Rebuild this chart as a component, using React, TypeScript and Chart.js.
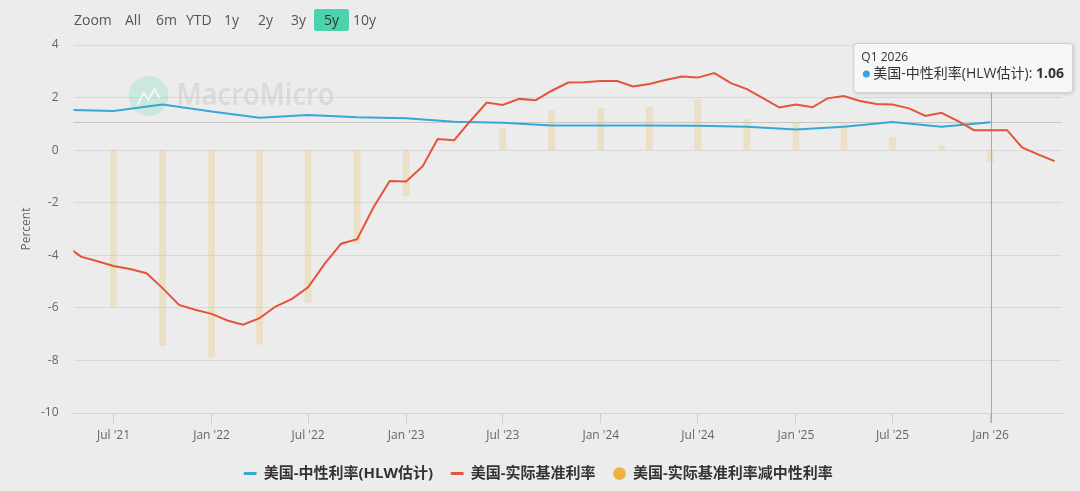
import React, { useEffect, useRef } from "react";
import { Chart, registerables } from "chart.js";

Chart.register(...registerables);

const SERIES_NEUTRAL = "美国-中性利率(HLW估计)";
const SERIES_REAL = "美国-实际基准利率";
const SERIES_GAP = "美国-实际基准利率减中性利率";

const realMonths = [
  "2021-04", "2021-05", "2021-06", "2021-07", "2021-08", "2021-09", "2021-10", "2021-11", "2021-12",
  "2022-01", "2022-02", "2022-03", "2022-04", "2022-05", "2022-06", "2022-07", "2022-08", "2022-09", "2022-10", "2022-11", "2022-12",
  "2023-01", "2023-02", "2023-03", "2023-04", "2023-05", "2023-06", "2023-07", "2023-08", "2023-09", "2023-10", "2023-11", "2023-12",
  "2024-01", "2024-02", "2024-03", "2024-04", "2024-05", "2024-06", "2024-07", "2024-08", "2024-09", "2024-10", "2024-11", "2024-12",
  "2025-01", "2025-02", "2025-03", "2025-04", "2025-05", "2025-06", "2025-07", "2025-08", "2025-09", "2025-10", "2025-11", "2025-12",
  "2026-01", "2026-02", "2026-03", "2026-04", "2026-05",
];
const realValues = [
  -3.6, -4.05, -4.23, -4.41, -4.52, -4.68, -5.25, -5.89, -6.07,
  -6.23, -6.49, -6.64, -6.39, -5.95, -5.66, -5.22, -4.33, -3.56, -3.39, -2.16, -1.17,
  -1.19, -0.61, 0.42, 0.38, 1.1, 1.81, 1.72, 1.95, 1.9, 2.26, 2.57, 2.58,
  2.63, 2.63, 2.42, 2.52, 2.67, 2.8, 2.76, 2.93, 2.55, 2.32, 1.97, 1.62,
  1.74, 1.63, 1.97, 2.06, 1.87, 1.76, 1.74, 1.59, 1.3, 1.42, 1.1, 0.76,
  0.76, 0.76, 0.1, -0.17, -0.42,
];

const neutralQuarters = [
  "2021-04", "2021-07", "2021-10", "2022-01", "2022-04", "2022-07", "2022-10",
  "2023-01", "2023-04", "2023-07", "2023-10", "2024-01", "2024-04", "2024-07", "2024-10",
  "2025-01", "2025-04", "2025-07", "2025-10", "2026-01",
];
const neutralValues = [
  1.53, 1.49, 1.74, 1.47, 1.23, 1.34, 1.25,
  1.21, 1.08, 1.04, 0.94, 0.94, 0.94, 0.93, 0.89,
  0.79, 0.89, 1.07, 0.89, 1.06,
];

const gapQuarters = [
  "2021-07", "2021-10", "2022-01", "2022-04", "2022-07", "2022-10",
  "2023-01", "2023-07", "2023-10", "2024-01", "2024-04", "2024-07", "2024-10",
  "2025-01", "2025-04", "2025-07", "2025-10", "2026-01",
];
const gapValues = [
  -5.95, -7.44, -7.89, -7.38, -5.79, -3.56,
  -1.74, 0.83, 1.5, 1.59, 1.65, 1.93, 1.17,
  1.02, 1.02, 0.48, 0.17, -0.45,
];

const tickDates = [
  "2021-07", "2022-01", "2022-07", "2023-01", "2023-07",
  "2024-01", "2024-07", "2025-01", "2025-07", "2026-01",
];
const tickLabels = [
  "Jul '21", "Jan '22", "Jul '22", "Jan '23", "Jul '23",
  "Jan '24", "Jul '24", "Jan '25", "Jul '25", "Jan '26",
];

const rangeStart = "2021-04-17";
const rangeEnd = "2026-05-15";
const yMin = -10;
const yMax = 4;
const yStep = 2;

const zoomButtons = ["Zoom", "All", "6m", "YTD", "1y", "2y", "3y", "5y", "10y"];
const activeZoom = "5y";
const tooltipTitle = "Q1 2026";
const yAxisTitle = "Percent";
const watermarkText = "MacroMicro";

const BLUE = "#37a6d8";
const RED = "#e4533b";
const GOLD = "#e9b444";
const GOLD_BAR = "rgba(233, 180, 68, 0.23)";
const BG = "#ececec";
const FONT = '"Open Sans", "Noto Sans CJK SC", sans-serif';

function toDay(s: string): number {
  const [y, m, d] = s.split("-").map(Number);
  return Date.UTC(y, m - 1, d || 1) / 86400000;
}

const buttonLeft = [74, 125, 156, 186, 224, 258, 291, 324, 353];

const overlayPlugin = {
  id: "overlay",
  beforeDatasetsDraw(chart: any) {
    const { ctx, chartArea } = chart;
    // watermark
    ctx.save();
    const cx = chartArea.left + 75;
    const cy = chartArea.top + 51;
    ctx.fillStyle = "rgba(110, 215, 180, 0.26)";
    ctx.beginPath();
    ctx.arc(cx, cy, 20, 0, Math.PI * 2);
    ctx.fill();
    ctx.strokeStyle = "rgba(255,255,255,0.7)";
    ctx.lineWidth = 2;
    ctx.beginPath();
    ctx.moveTo(cx - 11, cy + 9);
    ctx.lineTo(cx - 5, cy - 3);
    ctx.lineTo(cx, cy + 4);
    ctx.lineTo(cx + 6, cy - 7);
    ctx.lineTo(cx + 11, cy + 2);
    ctx.stroke();
    ctx.font = "600 30px " + FONT;
    ctx.fillStyle = "rgba(200, 200, 200, 0.5)";
    ctx.textBaseline = "middle";
    ctx.textAlign = "left";
    const tw = ctx.measureText(watermarkText).width;
    ctx.translate(cx + 28, cy);
    ctx.scale(158 / tw, 1);
    ctx.fillText(watermarkText, 0, 0);
    ctx.restore();

    // crosshairs
    const meta = chart.getDatasetMeta(0);
    const pt = meta.data[meta.data.length - 1];
    if (!pt) return;
    ctx.save();
    ctx.lineWidth = 1;
    ctx.strokeStyle = "#c6c6c6";
    ctx.beginPath();
    const hy = Math.round(pt.y) + 0.5;
    ctx.moveTo(chartArea.left, hy);
    ctx.lineTo(chartArea.right, hy);
    ctx.stroke();
    ctx.strokeStyle = "#a8a8a8";
    ctx.beginPath();
    const vx = Math.round(pt.x) + 0.5;
    ctx.moveTo(vx, chartArea.top);
    ctx.lineTo(vx, chartArea.bottom + 10);
    ctx.stroke();
    ctx.restore();
  },
  afterDraw(chart: any) {
    const { ctx, chartArea } = chart;
    const meta = chart.getDatasetMeta(0);
    const pt = meta.data[meta.data.length - 1];
    if (!pt) return;
    const label = SERIES_NEUTRAL + ": ";
    const valueText = neutralValues[neutralValues.length - 1].toFixed(2);
    ctx.save();
    ctx.font = "14px " + FONT;
    const w1 = ctx.measureText(label).width;
    ctx.font = "bold 14px " + FONT;
    const w2 = ctx.measureText(valueText).width;
    const boxW = 8 + 12 + w1 + w2 + 8;
    const boxH = 49;
    const bx = Math.min(pt.x - boxW / 2, chart.width - boxW - 8);
    const by = chartArea.top - 2;
    ctx.shadowColor = "rgba(0,0,0,0.18)";
    ctx.shadowBlur = 4;
    ctx.shadowOffsetX = 1;
    ctx.shadowOffsetY = 1;
    ctx.fillStyle = "rgba(248,248,248,0.96)";
    ctx.beginPath();
    ctx.roundRect(bx + 0.5, by + 0.5, boxW, boxH, 3);
    ctx.fill();
    ctx.shadowColor = "transparent";
    ctx.strokeStyle = "#cfcfcf";
    ctx.lineWidth = 1;
    ctx.stroke();
    ctx.textBaseline = "middle";
    ctx.textAlign = "left";
    ctx.fillStyle = "#333";
    ctx.font = "12px " + FONT;
    ctx.fillText(tooltipTitle, bx + 8, by + 15);
    ctx.fillStyle = BLUE;
    ctx.beginPath();
    ctx.arc(bx + 13, by + 31, 3.5, 0, Math.PI * 2);
    ctx.fill();
    ctx.fillStyle = "#333";
    ctx.font = "14px " + FONT;
    ctx.fillText(label, bx + 20, by + 31);
    ctx.font = "bold 14px " + FONT;
    ctx.fillText(valueText, bx + 20 + w1, by + 31);
    ctx.restore();
  },
};

export default function App() {
  const canvasRef = useRef<HTMLCanvasElement | null>(null);

  useEffect(() => {
    document.body.style.margin = "0";
    document.body.style.background = BG;
    const canvas = canvasRef.current;
    if (!canvas) return;

    const blueData = neutralQuarters.map((q, i) => ({ x: toDay(q), y: neutralValues[i] }));
    const redData = realMonths.map((m, i) => ({ x: toDay(m), y: realValues[i] }));
    const barData = gapQuarters.map((q, i) => ({ x: toDay(q), y: gapValues[i] }));
    const tickValues = tickDates.map(toDay);

    const chart = new Chart(canvas, {
      type: "line",
      data: {
        datasets: [
          {
            type: "line",
            label: SERIES_NEUTRAL,
            data: blueData,
            borderColor: BLUE,
            backgroundColor: BLUE,
            borderWidth: 2,
            pointRadius: 0,
            tension: 0,
            order: 2,
          },
          {
            type: "line",
            label: SERIES_REAL,
            data: redData,
            borderColor: RED,
            backgroundColor: RED,
            borderWidth: 2,
            pointRadius: 0,
            tension: 0,
            order: 1,
          },
          {
            type: "bar",
            label: SERIES_GAP,
            data: barData,
            backgroundColor: GOLD_BAR,
            borderWidth: 0,
            barThickness: 6,
            order: 3,
          } as any,
        ],
      },
      options: {
        responsive: false,
        animation: false,
        events: [],
        layout: { padding: { top: 45, left: 15, right: 18, bottom: 0 } },
        scales: {
          x: {
            type: "linear",
            min: toDay(rangeStart),
            max: toDay(rangeEnd),
            offset: false,
            afterBuildTicks: (scale: any) => {
              scale.ticks = tickValues.map((v) => ({ value: v }));
            },
            afterFit: (scale: any) => {
              scale.height = 35;
            },
            ticks: {
              autoSkip: false,
              maxRotation: 0,
              padding: 5,
              color: "#666",
              font: { family: FONT, size: 12 },
              callback: (value: any) => {
                const idx = tickValues.indexOf(Number(value));
                return idx >= 0 ? tickLabels[idx] : "";
              },
            },
            grid: {
              offset: false,
              drawOnChartArea: false,
              drawTicks: true,
              tickLength: 10,
              color: "#cccccc",
            },
            border: { display: true, color: "#d2d2d2" },
          },
          y: {
            min: yMin,
            max: yMax,
            afterFit: (scale: any) => {
              scale.width = 58.5;
            },
            ticks: {
              stepSize: yStep,
              padding: 15,
              color: "#666",
              font: { family: FONT, size: 12 },
            },
            grid: { color: "#d8d8d8", drawTicks: false },
            border: { display: false },
            title: {
              display: true,
              text: yAxisTitle,
              color: "#666",
              font: { family: FONT, size: 12 },
              padding: { top: 4, bottom: 4 },
            },
          },
        },
        plugins: {
          tooltip: { enabled: false },
          legend: {
            display: true,
            position: "bottom",
            labels: {
              usePointStyle: true,
              boxHeight: 9,
              boxWidth: 12,
              padding: 18,
              color: "#333",
              font: { family: FONT, size: 15, weight: "bold" },
              generateLabels: () => [
                {
                  text: SERIES_NEUTRAL,
                  fillStyle: BLUE,
                  strokeStyle: BLUE,
                  lineWidth: 3,
                  pointStyle: "line",
                  hidden: false,
                  datasetIndex: 0,
                  fontColor: "#333",
                } as any,
                {
                  text: SERIES_REAL,
                  fillStyle: RED,
                  strokeStyle: RED,
                  lineWidth: 3,
                  pointStyle: "line",
                  hidden: false,
                  datasetIndex: 1,
                  fontColor: "#333",
                } as any,
                {
                  text: SERIES_GAP,
                  fillStyle: GOLD,
                  strokeStyle: GOLD,
                  lineWidth: 0,
                  pointStyle: "circle",
                  hidden: false,
                  datasetIndex: 2,
                  fontColor: "#333",
                } as any,
              ],
            },
          },
        },
      },
      plugins: [overlayPlugin],
    } as any);

    return () => {
      chart.destroy();
    };
  }, []);

  return (
    <div
      style={{
        position: "relative",
        width: 1080,
        height: 491,
        background: BG,
        overflow: "hidden",
        fontFamily: FONT,
      }}
    >
      <canvas ref={canvasRef} width={1080} height={491} style={{ display: "block", width: 1080, height: 491 }} />
      {zoomButtons.map((b, i) => (
        <span
          key={b}
          style={{
            position: "absolute",
            top: 9,
            left: b === activeZoom ? buttonLeft[i] - 10 : buttonLeft[i],
            height: 22,
            lineHeight: "22px",
            padding: b === activeZoom ? "0 10px" : 0,
            fontSize: 14,
            color: b === activeZoom ? "#333" : "#555",
            background: b === activeZoom ? "#4dd2ae" : "transparent",
            borderRadius: 2,
            whiteSpace: "nowrap",
          }}
        >
          {b}
        </span>
      ))}
    </div>
  );
}
